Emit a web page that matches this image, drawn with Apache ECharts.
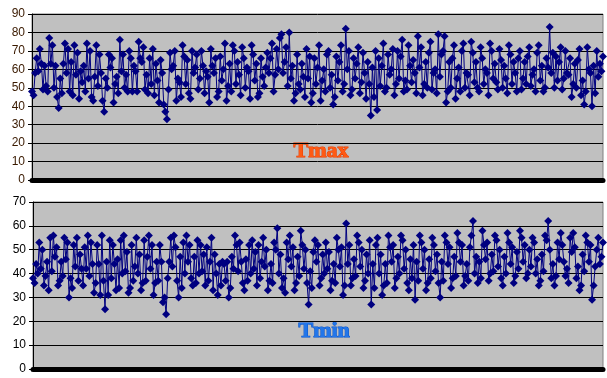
<!DOCTYPE html>
<html><head><meta charset="utf-8">
<script src="https://cdn.jsdelivr.net/npm/echarts@6/dist/echarts.min.js"></script>
<style>html,body{margin:0;padding:0;background:#fff}#c{width:607px;height:378px}</style>
</head><body><div id="c"></div>
<script>
const tmax = [
48,46,58,66,59,71,63,49,62,51,48,77,63,73,50,62,45,39,55,47,
63,74,58,71,48,64,46,73,57,69,44,59,53,62,48,74,55,70,45,43,
56,73,51,68,58,43,37,55,50,68,61,66,42,52,56,47,76,59,68,50,
57,48,70,66,48,62,59,48,75,66,64,72,49,57,47,66,52,71,46,63,
54,42,65,58,41,37,33,49,69,60,62,70,43,55,53,45,73,67,52,65,
47,44,70,58,61,68,49,55,70,62,47,59,56,42,71,62,58,66,45,48,
67,54,60,74,43,51,63,48,73,70,52,64,57,46,72,66,50,61,59,44,
73,68,54,63,45,47,66,56,51,61,69,58,66,74,48,57,71,60,77,79,
58,64,72,51,80,55,62,43,47,68,52,49,63,56,45,71,55,67,42,47,
66,52,61,73,43,54,60,48,68,70,50,57,41,45,67,54,64,73,48,52,
82,60,70,46,49,66,55,63,72,47,53,69,58,44,64,52,35,61,45,70,
38,66,51,62,74,48,50,68,57,60,71,46,52,70,55,67,76,48,54,49,
73,62,53,65,58,47,78,61,72,46,52,64,50,69,75,49,58,60,47,79,
56,68,70,78,42,48,64,50,66,73,44,55,61,48,70,74,50,58,57,46,
75,69,53,64,50,48,72,66,52,60,58,46,74,70,55,63,53,49,71,65,
50,62,55,47,73,68,52,64,58,48,66,70,49,55,64,52,67,72,51,57,
60,48,69,73,54,62,48,50,66,61,83,58,69,50,67,54,64,72,49,55,
70,58,57,66,45,52,63,50,65,71,46,54,41,48,72,60,58,40,62,47,
70,56,63,59,67];
const tmin = [
38,36,44,40,53,42,50,35,39,45,33,55,41,56,47,51,35,37,45,39,
55,46,53,30,38,34,52,43,55,37,48,42,35,51,42,56,39,53,44,32,
36,52,44,31,56,37,25,45,31,54,38,52,44,33,46,34,54,40,56,41,
49,32,34,52,37,43,55,40,48,33,36,54,37,47,56,42,52,31,36,45,
37,52,45,28,30,23,38,45,55,43,56,51,37,30,47,34,53,40,56,45,
52,38,35,47,36,54,40,52,41,48,35,51,37,45,55,33,48,40,31,44,
35,45,44,37,45,30,34,47,42,56,52,41,53,45,36,33,46,37,52,40,
54,42,49,35,52,38,45,55,43,50,33,37,44,36,53,50,59,40,48,34,
38,32,53,46,56,43,51,33,36,47,39,58,52,42,50,36,27,41,34,49,
54,45,52,35,38,48,40,53,42,49,33,37,44,36,55,50,43,51,31,35,
61,44,52,35,38,46,39,56,53,43,50,34,37,48,40,54,27,44,34,52,
55,40,48,31,35,44,36,56,51,45,52,34,38,47,40,56,54,42,50,36,
33,46,38,52,29,45,37,56,53,42,50,33,36,46,38,55,52,41,48,36,
30,45,37,56,53,44,51,34,38,47,39,57,53,45,52,35,39,44,37,51,
56,62,40,47,36,45,38,58,52,46,53,37,40,48,41,56,54,43,50,38,
35,47,40,57,53,44,51,36,39,49,42,58,55,45,52,38,40,50,43,55,
53,40,46,35,37,48,41,56,54,62,50,38,44,35,39,53,46,57,52,45,
39,42,36,55,49,57,51,38,43,33,35,48,41,56,53,45,52,29,35,43,
50,55,44,47,53];
const days = tmax.map((_, i) => i + 1);
const titles = ['Tmax', 'Tmin'];

const chart = echarts.init(document.getElementById('c'), null, {renderer: 'canvas'});
function yAxis(idx, max, color) {
  return {
    gridIndex: idx, type: 'value', min: 0, max: max, interval: 10,
    axisLine: {show: true, lineStyle: {color: '#000', width: 1}},
    axisTick: {show: true, length: 4, lineStyle: {color: '#000'}},
    axisLabel: {color: color, fontFamily: 'Liberation Sans, Arial', fontSize: 12, margin: 7},
    splitLine: {show: true, lineStyle: {color: '#000', width: 1}}
  };
}
function xAxis(idx) {
  return {
    gridIndex: idx, type: 'category', data: days, boundaryGap: false, offset: 3,
    axisLine: {show: true, lineStyle: {color: '#000', width: 5}},
    axisTick: {show: false}, axisLabel: {show: false}, splitLine: {show: false}
  };
}
function series(idx, data) {
  return {
    type: 'line', xAxisIndex: idx, yAxisIndex: idx, data: data,
    symbol: 'diamond', symbolSize: 8, showAllSymbol: true, clip: false, animation: false,
    itemStyle: {color: '#000080'}, lineStyle: {color: '#000080', width: 1}
  };
}
chart.setOption({
  animation: false,
  grid: [
    {left: 32, right: 4, top: 14, height: 166, show: true, backgroundColor: '#c0c0c0', borderColor: '#808080', borderWidth: 1},
    {left: 33, right: 4, top: 202, height: 167, show: true, backgroundColor: '#c0c0c0', borderColor: '#808080', borderWidth: 1}
  ],
  xAxis: [xAxis(0), xAxis(1)],
  yAxis: [yAxis(0, 90, '#3a1a00'), yAxis(1, 70, '#000')],
  series: [series(0, tmax), series(1, tmin)],
  graphic: [
    {type: 'text', left: 293, top: 140, style: {text: titles[0], font: 'bold 22px "Liberation Serif", "Times New Roman", serif', fill: '#ff5a14', stroke: '#e63c00', lineWidth: 1}},
    {type: 'text', left: 298, top: 320, style: {text: titles[1], font: 'bold 22px "Liberation Serif", "Times New Roman", serif', fill: '#2276ea', stroke: '#0050cc', lineWidth: 1}}
  ]
});
</script>
</body></html>
